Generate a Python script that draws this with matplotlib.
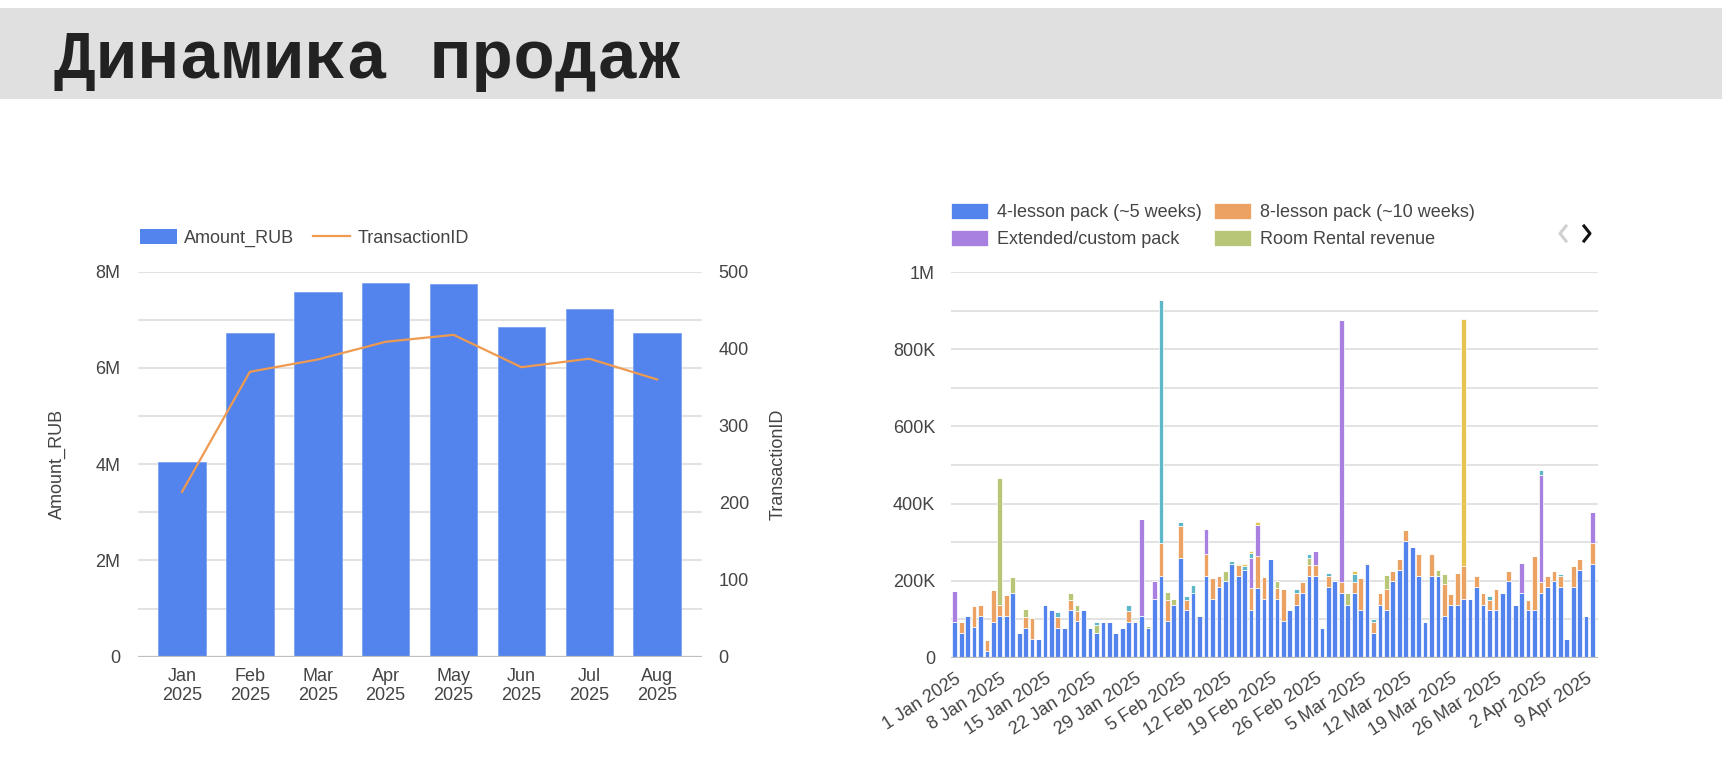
import matplotlib
matplotlib.use("Agg")
import matplotlib.pyplot as plt
from matplotlib.lines import Line2D
from matplotlib.patches import Patch, Rectangle
from matplotlib.ticker import FuncFormatter, MultipleLocator

TEXT = "#444444"
GRID = "#dddddd"
BASE = "#bdbdbd"
BLUE = "#5383EC"
ORANGE = "#EBA262"
PURPLE = "#A780E0"
GREEN = "#B8C777"
TEAL = "#5FB7CA"
YELLOW = "#E5C451"

# --- left chart: monthly totals ---
months = ["Jan\n2025", "Feb\n2025", "Mar\n2025", "Apr\n2025",
          "May\n2025", "Jun\n2025", "Jul\n2025", "Aug\n2025"]
amount_rub_m = [4.04, 6.73, 7.58, 7.76, 7.74, 6.85, 7.22, 6.72]
transactions = [214, 370, 386, 409, 418, 376, 387, 360]

# --- right chart: daily revenue by product, thousands RUB, 1 Jan .. 10 Apr 2025 ---
day_labels = ["1 Jan 2025", "8 Jan 2025", "15 Jan 2025", "22 Jan 2025", "29 Jan 2025",
              "5 Feb 2025", "12 Feb 2025", "19 Feb 2025", "26 Feb 2025", "5 Mar 2025",
              "12 Mar 2025", "19 Mar 2025", "26 Mar 2025", "2 Apr 2025", "9 Apr 2025"]
pack4_k = [93, 63, 107, 79, 107, 18, 93, 107, 107, 168,
           63, 78, 48, 48, 137, 123, 78, 78, 123, 94,
           123, 78, 63, 93, 93, 63, 78, 93, 93, 108,
           78, 153, 213, 94, 137, 258, 123, 169, 107, 213,
           153, 183, 198, 243, 213, 227, 123, 181, 153, 257,
           153, 94, 123, 138, 169, 213, 213, 78, 183, 198,
           169, 138, 169, 124, 243, 63, 138, 124, 198, 228,
           302, 288, 213, 93, 213, 213, 108, 138, 138, 153,
           153, 183, 138, 124, 124, 169, 198, 138, 169, 124,
           124, 169, 183, 198, 183, 48, 183, 228, 108, 244]
pack8_k = [0, 29, 0, 54, 29, 28, 83, 30, 56, 0,
           0, 28, 56, 0, 0, 0, 28, 0, 27, 27,
           0, 0, 0, 0, 0, 0, 0, 28, 0, 0,
           0, 0, 84, 56, 0, 83, 28, 0, 0, 56,
           55, 28, 0, 0, 28, 0, 57, 84, 56, 0,
           27, 83, 0, 30, 27, 28, 28, 0, 29, 0,
           27, 0, 28, 83, 0, 29, 29, 55, 27, 28,
           29, 0, 55, 0, 55, 0, 84, 28, 83, 84,
           0, 28, 29, 26, 55, 0, 27, 0, 0, 26,
           139, 28, 28, 27, 28, 0, 56, 28, 0, 54]
extended_k = [79, 0, 0, 0, 0, 0, 0, 0, 0, 0,
              0, 0, 0, 0, 0, 0, 0, 0, 0, 0,
              0, 0, 0, 0, 0, 0, 0, 0, 0, 253,
              0, 47, 0, 0, 0, 0, 0, 0, 0, 64,
              0, 0, 0, 0, 0, 0, 79, 80, 0, 0,
              0, 0, 0, 0, 0, 0, 35, 0, 0, 0,
              681, 0, 0, 0, 0, 0, 0, 0, 0, 0,
              0, 0, 0, 0, 0, 0, 0, 0, 0, 0,
              0, 0, 0, 0, 0, 0, 0, 0, 78, 0,
              0, 277, 0, 0, 0, 0, 0, 0, 0, 80]
rental_k = [0, 0, 0, 0, 0, 0, 0, 330, 0, 42,
            0, 21, 0, 0, 0, 0, 0, 0, 19, 17,
            0, 0, 22, 0, 0, 0, 0, 0, 0, 0,
            5, 0, 0, 21, 16, 0, 0, 0, 0, 0,
            0, 0, 27, 0, 0, 0, 0, 0, 0, 0,
            20, 0, 0, 0, 0, 18, 0, 0, 0, 0,
            0, 30, 0, 0, 0, 0, 0, 35, 0, 0,
            0, 0, 0, 0, 0, 15, 26, 0, 0, 0,
            0, 0, 0, 0, 0, 0, 0, 0, 0, 0,
            0, 0, 0, 0, 0, 0, 0, 0, 0, 0]
series5_k = [0, 0, 0, 0, 0, 0, 0, 0, 0, 0,
             0, 0, 0, 0, 0, 0, 12, 0, 0, 0,
             0, 0, 7, 0, 0, 0, 0, 16, 0, 0,
             0, 0, 630, 0, 0, 10, 8, 19, 0, 0,
             0, 0, 0, 9, 0, 11, 13, 0, 0, 0,
             0, 0, 0, 9, 0, 9, 0, 0, 9, 0,
             0, 0, 21, 0, 0, 8, 0, 0, 0, 0,
             0, 0, 0, 0, 0, 0, 0, 0, 0, 0,
             0, 0, 0, 9, 0, 0, 0, 0, 0, 0,
             0, 12, 0, 0, 5, 0, 0, 0, 0, 0]
series6_k = [0, 0, 0, 0, 0, 0, 0, 0, 0, 0,
             0, 0, 0, 0, 0, 0, 0, 0, 0, 0,
             0, 0, 0, 0, 0, 0, 0, 0, 3, 0,
             0, 0, 0, 0, 0, 0, 0, 0, 0, 0,
             0, 0, 0, 0, 3, 5, 6, 7, 0, 0,
             0, 0, 0, 0, 0, 0, 0, 0, 0, 0,
             0, 0, 6, 0, 3, 0, 0, 0, 0, 0,
             0, 0, 0, 0, 0, 0, 0, 0, 0, 643,
             0, 0, 0, 0, 0, 0, 0, 0, 0, 0,
             0, 0, 0, 0, 0, 0, 0, 0, 0, 0]
legend_names = ["4-lesson pack (~5 weeks)", "8-lesson pack (~10 weeks)",
                "Extended/custom pack", "Room Rental revenue"]

plt.rcParams["font.family"] = ["Liberation Sans", "DejaVu Sans"]

W, H = 1722, 764
fig = plt.figure(figsize=(W / 100, H / 100), dpi=100, facecolor="white")

# title band
fig.add_artist(Rectangle((0, 1 - 99.3 / H), 1, 91 / H, transform=fig.transFigure,
                         facecolor="#e0e0e0", edgecolor="none", zorder=0))
fig.text(54 / W, 1 - 78.3 / H, "Динамика продаж", fontsize=50, fontweight="bold",
         family=["Liberation Mono", "DejaVu Sans Mono"], color="#222222", va="baseline")


def style(ax):
    for s in ax.spines.values():
        s.set_visible(False)
    ax.tick_params(length=0, colors=TEXT, labelsize=13)
    ax.grid(True, axis="y", which="both", color=GRID, linewidth=1.2)
    ax.set_axisbelow(True)
    ax.axhline(0, color=BASE, linewidth=1.6, zorder=3)


# ---- left chart ----
ax1 = fig.add_axes([137.7 / W, 1 - 656.7 / H, 564.3 / W, 385 / H])
style(ax1)
x = list(range(len(months)))
ax1.bar(x, amount_rub_m, width=0.70, color=BLUE, edgecolor="#7ea2f0", linewidth=0.6,
        label="Amount_RUB", zorder=2)
ax1.set_xlim(-0.652, 7.66)
ax1.set_ylim(0, 8)
ax1.yaxis.set_major_locator(MultipleLocator(2))
ax1.yaxis.set_minor_locator(MultipleLocator(1))
ax1.tick_params(which="minor", length=0)
ax1.yaxis.set_major_formatter(FuncFormatter(lambda v, p: "0" if v == 0 else f"{v:.0f}M"))
ax1.tick_params(axis="y", pad=12.5)
ax1.set_xticks(x)
ax1.set_xticklabels(months, fontsize=13, linespacing=1.2)
ax1.tick_params(axis="x", pad=8)
ax1.set_ylabel("Amount_RUB", fontsize=13, color=TEXT)
ax1.yaxis.set_label_coords(-0.127, 0.5)

ax2 = ax1.twinx()
for s in ax2.spines.values():
    s.set_visible(False)
ax2.plot(x, transactions, color="#EE9A50", linewidth=1.6, label="TransactionID", zorder=4)
ax2.set_ylim(0, 500)
ax2.set_yticks([0, 100, 200, 300, 400, 500])
ax2.tick_params(length=0, colors=TEXT, labelsize=13, pad=12)
ax2.set_ylabel("TransactionID", fontsize=13, color=TEXT)
ax2.yaxis.set_label_coords(1.12, 0.5)

h1 = [Patch(facecolor=BLUE, edgecolor="none"),
      Line2D([], [], color="#EE9A50", linewidth=1.6)]
ax1.legend(h1, ["Amount_RUB", "TransactionID"], loc="center left",
           bbox_to_anchor=(0.004, 1.0875), ncol=2, frameon=False, fontsize=13,
           labelcolor=TEXT, handlelength=2.05, handleheight=0.95, handletextpad=0.4,
           columnspacing=1.05, borderpad=0, borderaxespad=0)

# ---- right chart ----
ax3 = fig.add_axes([951 / W, 1 - 657.7 / H, 646.7 / W, 385.4 / H])
style(ax3)
days = list(range(len(pack4_k)))
stack = [(pack4_k, BLUE), (pack8_k, ORANGE), (extended_k, PURPLE),
         (rental_k, GREEN), (series5_k, TEAL), (series6_k, YELLOW)]
bottom = [0] * len(days)
handles = []
for vals, col in stack:
    c = ax3.bar(days, vals, bottom=bottom, width=0.73, color=col, edgecolor="white",
                linewidth=0.5, zorder=2)
    handles.append(c)
    bottom = [b + v for b, v in zip(bottom, vals)]
ax3.set_xlim(-0.58, 99.8)
ax3.set_ylim(0, 1000)
ax3.yaxis.set_major_locator(MultipleLocator(200))
ax3.yaxis.set_minor_locator(MultipleLocator(100))
ax3.tick_params(which="minor", length=0)
ax3.yaxis.set_major_formatter(FuncFormatter(
    lambda v, p: "0" if v == 0 else ("1M" if v == 1000 else f"{v:.0f}K")))
ax3.tick_params(axis="y", pad=11.5)
ax3.set_xticks(days[::7])
ax3.set_xticklabels(day_labels, rotation=33, ha="right", va="top",
                    rotation_mode="anchor", fontsize=13)
ax3.tick_params(axis="x", pad=9)

order = [0, 2, 1, 3]
ax3.legend([handles[i] for i in order], [legend_names[i] for i in order],
           loc="center left", bbox_to_anchor=(0.0, 1.1208), ncol=2, frameon=False,
           fontsize=13, labelcolor=TEXT, handlelength=2.05, handleheight=0.95,
           handletextpad=0.5, columnspacing=0.7, labelspacing=0.5,
           borderpad=0, borderaxespad=0)

# legend page arrows
for (x0, col) in [(1566, "#d0d0d0"), (1584, "#111111")]:
    if x0 < 1570:
        xs = [x0, x0 - 6, x0]
    else:
        xs = [x0, x0 + 6, x0]
    ys = [226, 233.5, 241]
    fig.add_artist(Line2D([v / W for v in xs], [1 - v / H for v in ys],
                          transform=fig.transFigure, color=col, linewidth=2.2))

fig.savefig("out.png", dpi=100, facecolor="white")
